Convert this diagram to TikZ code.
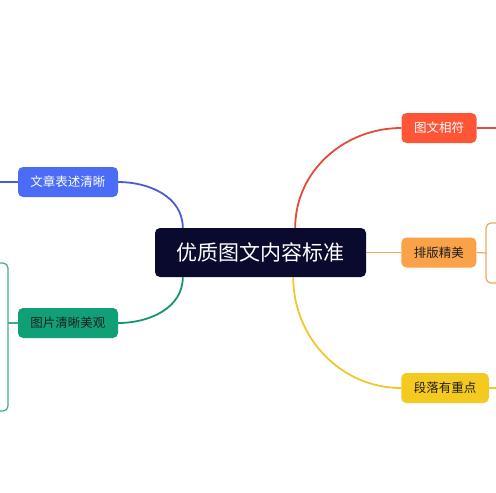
\documentclass[tikz,border=0pt]{standalone}
\usepackage{fontspec}
\setmainfont{Noto Sans CJK SC}
\usetikzlibrary{positioning,calc}
\definecolor{rootbox}{RGB}{10,10,46}
\definecolor{bluebox}{RGB}{74,108,247}
\definecolor{blueline}{RGB}{72,92,212}
\definecolor{greenbox}{RGB}{16,160,120}
\definecolor{greenline}{RGB}{20,150,115}
\definecolor{redbox}{RGB}{255,85,55}
\definecolor{redline}{RGB}{226,76,56}
\definecolor{orangebox}{RGB}{250,162,72}
\definecolor{orangeline}{RGB}{236,166,96}
\definecolor{yellowbox}{RGB}{245,202,32}
\definecolor{yellowline}{RGB}{238,200,45}
\definecolor{darktext}{RGB}{30,30,30}
\tikzset{
  topic/.style={
    rounded corners=5pt,
    align=center,
    minimum height=30pt,
    inner xsep=12.5pt,
    inner ysep=2pt,
    font=\fontsize{12.5}{14}\selectfont
  },
  root/.style={
    fill=rootbox,
    text=white,
    rounded corners=5pt,
    minimum height=49pt,
    minimum width=211pt,
    inner xsep=20pt,
    font=\fontsize{21}{25}\selectfont
  },
  branch/.style={line width=1.8pt},
  brace/.style={line width=1.2pt, rounded corners=5pt}
}

\begin{document}
\begin{tikzpicture}[x=1pt, y=-1pt]
  \useasboundingbox (0,0) rectangle (496,493);
  \node[root] (root) at (260.5,252.5) {优质图文内容标准};
  \node[topic, fill=bluebox, text=white] (wenzhang) at (68,182) {文章表述清晰};
  \node[topic, fill=greenbox, text=darktext] (tupian) at (68,323) {图片清晰美观};
  \node[topic, fill=redbox, text=white] (xiangfu) at (439,128) {图文相符};
  \node[topic, fill=orangebox, text=darktext, right=35pt of root] (paiban) {排版精美};
  \node[topic, fill=yellowbox, text=darktext] (duanluo) at (445,388) {段落有重点};
  % anchors on the root box
  \coordinate (rootnw) at ($(root.north west)+(28,0)$);
  \coordinate (rootsw) at ($(root.south west)+(28,0)$);
  \coordinate (rootne) at ($(root.north east)+(-71,0)$);
  \coordinate (rootse) at ($(root.south east)+(-73,0)$);
  \draw[branch, blueline] (wenzhang.east) to[out=0, in=90] (rootnw);
  \draw[branch, greenline] (rootsw) to[out=-90, in=0] (tupian.east);
  \draw[branch, redline] (rootne) to[out=90, in=180] (xiangfu.west);
  \draw[branch, orangeline] (root.east) -- (paiban.west);
  \draw[branch, yellowline] (rootse) to[out=-90, in=180] (duanluo.west);
  % stubs running off the page
  \coordinate (blueend) at (0,182);
  \coordinate (redend) at (496,128);
  \coordinate (yellowend) at (496,388);
  \draw[branch, blueline, line width=1.2pt] (wenzhang.west) -- (blueend);
  \draw[branch, redline, line width=1.2pt] (xiangfu.east) -- (redend);
  \draw[branch, yellowline, line width=1.2pt] (duanluo.east) -- (yellowend);
  % brackets of hidden sub-topics
  \coordinate (greenbr) at (8,323);
  \coordinate (orangebr) at (486,253);
  \draw[brace, greenline!80] (0,263) -- (8,263) -- (8,411) -- (0,411);
  \draw[brace, orangeline] (496,223) -- (486,223) -- (486,283) -- (496,283);
  \draw[greenline!80, line width=1.2pt] (tupian.west) -- (greenbr);
  \draw[orangeline, line width=1.2pt] (paiban.east) -- (orangebr);
\end{tikzpicture}
\end{document}
